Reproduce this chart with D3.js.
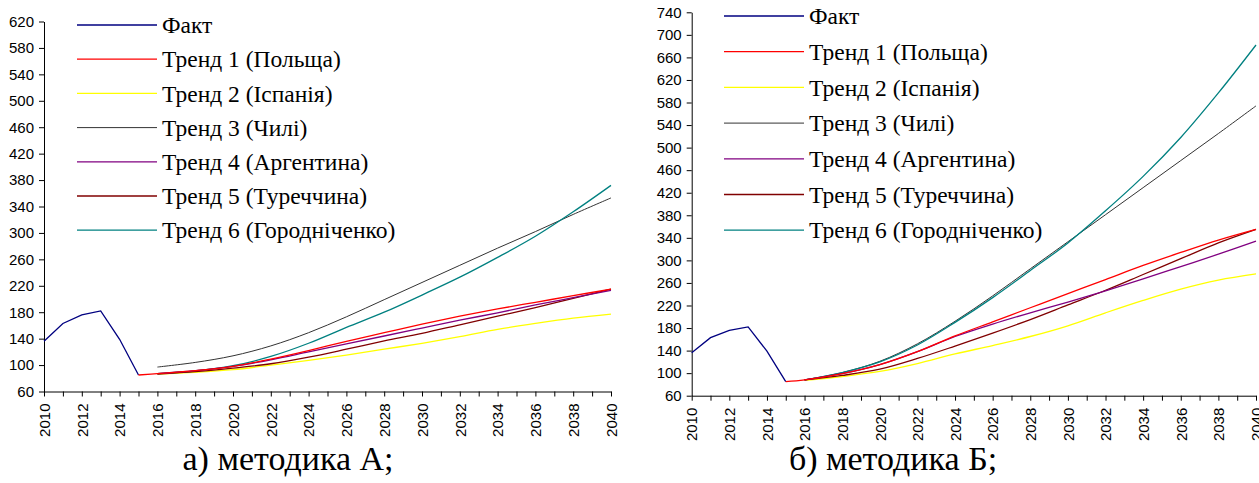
<!DOCTYPE html>
<html>
<head>
<meta charset="utf-8">
<script src="https://cdn.jsdelivr.net/npm/d3@7"></script>
<style>
  body { margin: 0; background: #fff; }
  svg { display: block; }
  .serif { font-family: "Liberation Serif", "Times New Roman", serif; }
  .sans { font-family: "Liberation Sans", Arial, sans-serif; }
</style>
</head>
<body>
<div class="charts"></div>
<script>
// ---- data ----
const factYears = [2010, 2011, 2012, 2013, 2014, 2015];
const factValues = [136, 163, 176, 182, 139, 85];

const trendYears = [2016, 2018, 2020, 2022, 2024, 2026, 2028, 2030, 2032, 2034, 2036, 2038, 2040];
const trend1Years = [2015].concat(trendYears);

const seriesNames = ["Факт", "Тренд 1 (Польща)", "Тренд 2 (Іспанія)", "Тренд 3 (Чилі)",
                     "Тренд 4 (Аргентина)", "Тренд 5 (Туреччина)", "Тренд 6 (Городніченко)"];
const seriesColors = ["#000080", "#ff0000", "#ffff00", "#333333", "#800080", "#800000", "#008080"];

// методика А
const aTrend1 = [85, 87, 91.5, 98, 109, 122, 136, 149, 162, 174, 185, 195, 205, 215];
const aTrend2 = [86.5, 89, 93, 100, 107, 115, 124, 133, 143, 154, 163, 171, 177];
const aTrend3 = [97, 104, 114, 129, 149, 173, 199, 225, 251, 277, 302, 328, 353];
const aTrend4 = [87, 91.5, 98, 108, 120, 132, 144, 156, 168, 179, 191, 202, 213];
const aTrend5 = [86.5, 90, 95.5, 102, 112, 124, 136.5, 148, 161, 174, 187, 201, 215];
const aTrend6 = [87, 91, 99, 113, 133, 157, 180, 206, 233, 263, 295, 332, 372];

// методика Б
const bTrend1 = [85, 88, 99, 115, 138, 166, 191, 216, 241, 266, 291, 314, 336, 355];
const bTrend2 = [87, 94, 103, 117, 134, 149, 165, 184, 207, 229, 249, 265, 276];
const bTrend3 = [88, 101, 121, 152, 192, 237, 285, 333, 381, 429, 477, 525, 574];
const bTrend4 = [88, 99, 115, 138, 165, 187, 207, 226, 246, 267, 289, 311, 334];
const bTrend5 = [88, 96, 107, 126, 148, 171, 195, 221, 247, 275, 303, 331, 355];
const bTrend6 = [88, 101, 120, 150, 190, 234, 282, 331, 388, 449, 518, 597, 682];

const width = 1259, height = 483;

var svg = d3.select(".charts").append("svg")
    .attr("width", width)
    .attr("height", height);

function drawPanel(p) {
  var x = d3.scaleLinear().domain([2010, 2040]).range([p.left, p.right]);
  var y = d3.scaleLinear().domain([60, p.yMax]).range([p.bottom, p.top]);

  var g = svg.append("g");

  // y axis
  var yAxis = g.append("g")
      .attr("transform", "translate(" + p.left + ",0)")
      .call(d3.axisLeft(y).tickValues(d3.range(60, p.yMax + 1, 40)).tickSize(5).tickSizeOuter(0).tickPadding(5));
  yAxis.attr("font-family", null);
  yAxis.selectAll("text")
      .attr("class", "sans")
      .style("font-size", "15px")
      .attr("fill", "#000");

  // x axis, a tick every year, a label every second year
  var xAxis = g.append("g")
      .attr("transform", "translate(0," + p.bottom + ")")
      .call(d3.axisBottom(x).tickValues(d3.range(2010, 2041)).tickSize(5).tickSizeOuter(0)
        .tickFormat(d => d % 2 === 0 ? d : ""));
  xAxis.attr("font-family", null);
  xAxis.selectAll("text")
      .attr("class", "sans")
      .attr("transform", "rotate(-90)")
      .attr("text-anchor", "end")
      .attr("x", -12)
      .attr("y", 0)
      .attr("dy", "0.35em")
      .style("font-size", "15px")
      .attr("fill", "#000");
  g.selectAll(".domain").attr("stroke", "#000");

  var line = d3.line()
      .x(d => x(d[0]))
      .y(d => y(d[1]))
      .curve(d3.curveCatmullRom.alpha(0.5));

  var series = [
    {years: factYears, values: factValues, color: seriesColors[0], linear: true},
    {years: trend1Years, values: p.trends[0], color: seriesColors[1]},
    {years: trendYears, values: p.trends[1], color: seriesColors[2]},
    {years: trendYears, values: p.trends[2], color: seriesColors[3], w: 1},
    {years: trendYears, values: p.trends[3], color: seriesColors[4]},
    {years: trendYears, values: p.trends[4], color: seriesColors[5]},
    {years: trendYears, values: p.trends[5], color: seriesColors[6]}
  ];

  // draw order: yellow under, red on top near 2015
  [0, 2, 3, 6, 5, 4, 1].forEach(i => {
    var s = series[i];
    var pts = s.years.map((yr, k) => [yr, s.values[k]]);
    g.append("path")
      .attr("d", s.linear ? d3.line().x(d => x(d[0])).y(d => y(d[1]))(pts) : line(pts))
      .attr("fill", "none")
      .attr("stroke", s.color)
      .attr("stroke-width", s.w || 1.3);
  });

  // legend
  var leg = g.selectAll(".leg")
      .data(seriesNames)
      .enter().append("g")
      .attr("transform", (d, i) => "translate(" + p.legX + "," + (p.legY + i * p.legStep) + ")");
  leg.append("line")
      .attr("x1", 0).attr("x2", 80)
      .attr("stroke", (d, i) => seriesColors[i])
      .attr("stroke-width", (d, i) => i === 3 ? 1 : 1.3);
  leg.append("text")
      .attr("class", "serif")
      .attr("x", 85)
      .attr("dy", "0.35em")
      .style("font-size", "23.5px")
      .text(d => d);

  // caption
  g.append("text")
      .attr("class", "serif")
      .attr("x", p.capX)
      .attr("y", 470)
      .attr("text-anchor", "middle")
      .style("font-size", "34px")
      .text(p.caption);
}

drawPanel({left: 44, right: 611, top: 21.5, bottom: 391.5, yMax: 620,
  trends: [aTrend1, aTrend2, aTrend3, aTrend4, aTrend5, aTrend6],
  legX: 77, legY: 25, legStep: 34.2, capX: 288, caption: "а) методика А;"});

drawPanel({left: 691.7, right: 1256, top: 12.3, bottom: 395.7, yMax: 740,
  trends: [bTrend1, bTrend2, bTrend3, bTrend4, bTrend5, bTrend6],
  legX: 724, legY: 16, legStep: 35.7, capX: 893, caption: "б) методика Б;"});
</script>
</body>
</html>
